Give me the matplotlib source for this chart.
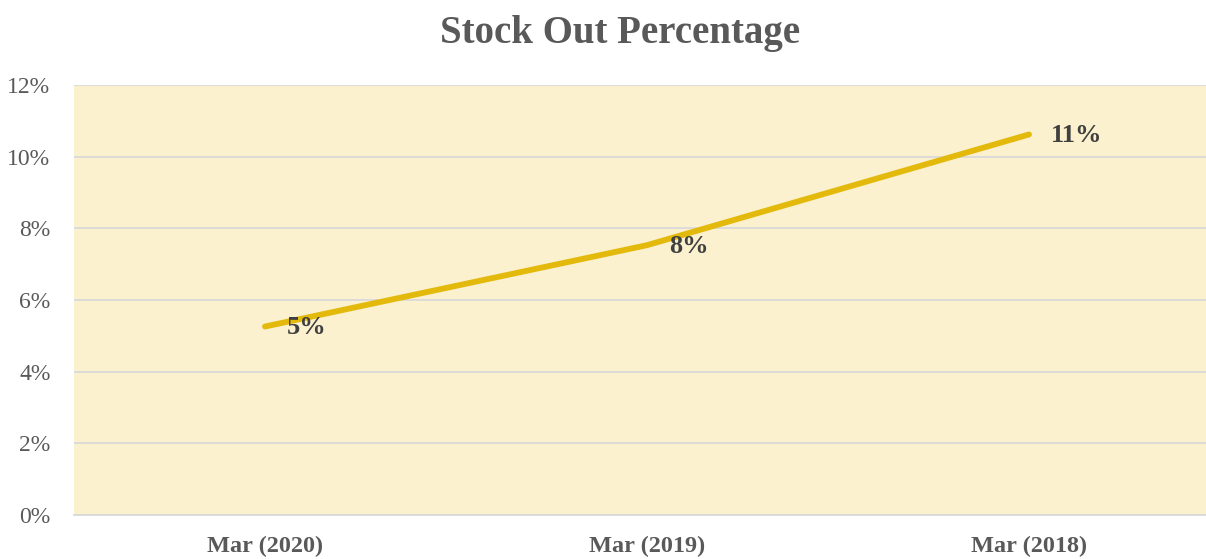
# Stock out percentage by period

import matplotlib.pyplot as plt
from matplotlib.ticker import PercentFormatter

periods = ["Mar (2020)", "Mar (2019)", "Mar (2018)"]
stock_out = [5.26, 7.53, 10.62]
point_labels = ["5%", "8%", "11%"]

plt.rcParams["font.family"] = ["Liberation Serif", "DejaVu Serif"]

fig = plt.figure(figsize=(12.06, 5.59), dpi=100)
ax = fig.add_axes([74 / 1206, 44 / 559, 1146 / 1206, 430 / 559])
ax.set_facecolor("#FBF1CE")

xs = list(range(len(stock_out)))
ax.plot(xs, stock_out, color="#E3B90C", linewidth=4.2,
        solid_capstyle="round", solid_joinstyle="round", zorder=3)

for x, y, lab in zip(xs, stock_out, point_labels):
    ax.annotate(lab, (x, y), xytext=(16, -1), textcoords="offset points",
                ha="left", va="center", fontsize=19, fontweight="bold",
                color="#404040", zorder=4)

ax.set_xlim(-0.5, len(periods) - 0.5)
ax.set_ylim(0, 12)
ax.set_yticks(range(0, 13, 2))
ax.yaxis.set_major_formatter(PercentFormatter(decimals=0))
ax.set_xticks(xs)
ax.set_xticklabels(periods, fontweight="bold", fontsize=17.5, color="#595959")
ax.tick_params(axis="y", length=0, pad=17, labelsize=17, labelcolor="#595959")
ax.tick_params(axis="x", length=0, pad=15)
ax.grid(axis="y", color="#D9D9D9", linewidth=1.3)
ax.set_axisbelow(True)
for s in ["top", "right", "left"]:
    ax.spines[s].set_visible(False)
ax.spines["bottom"].set_color("#D9D9D9")
ax.spines["bottom"].set_linewidth(1.3)

fig.text(620 / 1206, 1 - 34 / 559, "Stock Out Percentage", ha="center", va="center",
         fontsize=28, fontweight="bold", color="#595959")

fig.savefig("out.png", dpi=100)
